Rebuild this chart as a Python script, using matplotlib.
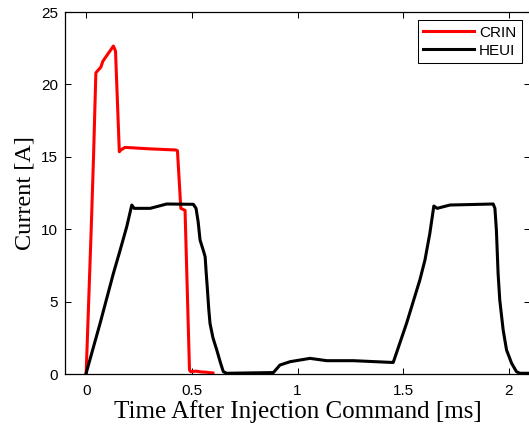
import matplotlib
matplotlib.use("Agg")
import matplotlib.pyplot as plt

# -- DATA --
crin_t = [0.0, 0.012, 0.024, 0.035, 0.046, 0.07, 0.079, 0.129, 0.139, 0.157, 0.164, 0.184,
          0.30, 0.424, 0.432, 0.448, 0.468, 0.489, 0.495, 0.52, 0.539, 0.57, 0.60]
crin_i = [0.0, 5.0, 10.0, 15.0, 20.8, 21.2, 21.6, 22.65, 22.3, 15.35, 15.47, 15.65,
          15.55, 15.47, 15.42, 11.44, 11.3, 0.27, 0.16, 0.2, 0.15, 0.12, 0.07]

heui_t = [0.0, 0.066, 0.129, 0.161, 0.192, 0.216, 0.227, 0.303, 0.381, 0.507, 0.52,
          0.53, 0.539, 0.555, 0.563, 0.568, 0.574, 0.58, 0.586, 0.60, 0.618, 0.635,
          0.649, 0.665, 0.886, 0.917, 0.965, 1.059, 1.138, 1.264, 1.445, 1.453,
          1.516, 1.579, 1.603, 1.626, 1.645, 1.661, 1.721, 1.926, 1.934, 1.941,
          1.949, 1.957, 1.973, 1.989, 2.013, 2.036, 2.052, 2.1]
heui_i = [0.05, 3.5, 6.95, 8.56, 10.17, 11.67, 11.44, 11.44, 11.74, 11.72, 11.44,
          10.5, 9.25, 8.5, 8.1, 7.0, 5.8, 4.5, 3.5, 2.5, 1.66, 0.8,
          0.16, 0.05, 0.1, 0.62, 0.85, 1.08, 0.92, 0.92, 0.8, 0.8,
          3.5, 6.5, 7.87, 9.7, 11.6, 11.44, 11.67, 11.74, 11.44, 9.94,
          6.95, 5.1, 3.04, 1.66, 0.74, 0.16, 0.05, 0.05]

# -- PLOT --
fig = plt.figure(figsize=(5.29, 4.29), dpi=100)
ax = fig.add_axes([65 / 529, 55 / 429, 465 / 529, 362 / 429])

ax.plot(crin_t, crin_i, color="#ff0000", lw=2.2, label="CRIN")
ax.plot(heui_t, heui_i, color="black", lw=2.2, label="HEUI")

ax.set_xlim(-0.1, 2.1)
ax.set_ylim(0, 25)
ax.set_xticks([0, 0.5, 1, 1.5, 2])
ax.set_xticklabels(["0", "0.5", "1", "1.5", "2"])
ax.set_yticks([0, 5, 10, 15, 20, 25])

ax.tick_params(direction="in", top=True, right=True, length=4, width=0.75,
               labelsize=11, pad=5)
ax.tick_params(axis="x", pad=7)
for lab in ax.get_xticklabels() + ax.get_yticklabels():
    lab.set_family("Liberation Sans")
for sp in ax.spines.values():
    sp.set_linewidth(0.9)

ax.set_xlabel("Time After Injection Command [ms]", family="Liberation Serif",
              fontsize=18, labelpad=2)
ax.set_ylabel("Current [A]", family="Liberation Serif", fontsize=17.5, labelpad=4)

leg = ax.legend(loc="upper right", prop={"family": "Liberation Sans", "size": 11},
                fancybox=False, edgecolor="black", framealpha=1,
                handlelength=3.3, borderpad=0.35, labelspacing=0.25,
                handletextpad=0.35, borderaxespad=0.55)
leg.get_frame().set_linewidth(0.75)

fig.savefig("out.png", dpi=100)
